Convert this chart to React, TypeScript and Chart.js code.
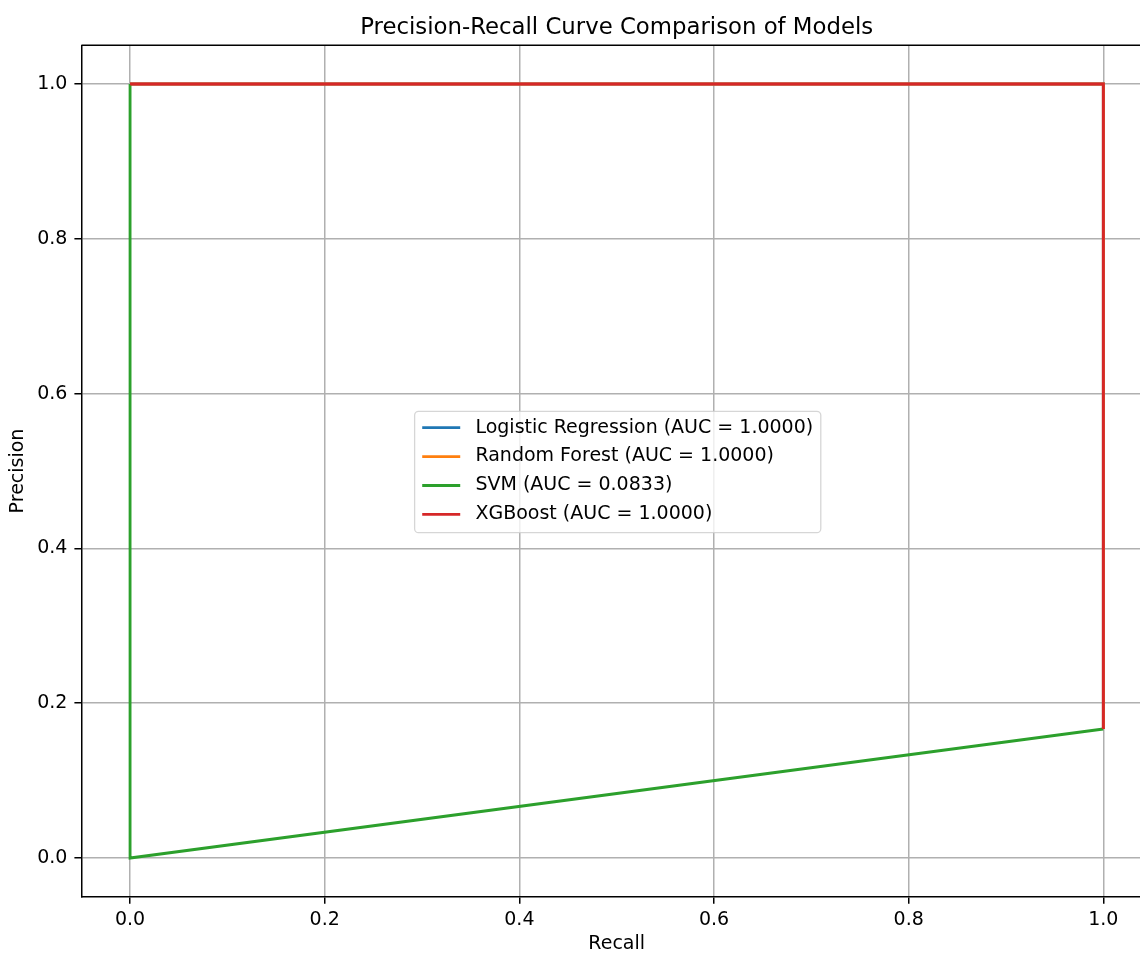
import React, { useEffect, useRef } from "react";
import { Chart, registerables } from "chart.js";

Chart.register(...registerables);

const titleText = "Precision-Recall Curve Comparison of Models";
const xLabel = "Recall";
const yLabel = "Precision";
const tickValues = [0, 0.2, 0.4, 0.6, 0.8, 1.0];
const axisMin = -0.05;
const axisMax = 1.05;

const modelNames = ["Logistic Regression", "Random Forest", "SVM", "XGBoost"];
const modelAUC = ["1.0000", "1.0000", "0.0833", "1.0000"];
const modelColors = ["#1f77b4", "#ff7f0e", "#2ca02c", "#d62728"];

const lrRecall = [1, 1, 0];
const lrPrecision = [0.1667, 1, 1];
const rfRecall = [1, 1, 0];
const rfPrecision = [0.1667, 1, 1];
const svmRecall = [1, 0, 0];
const svmPrecision = [0.1667, 0, 1];
const xgbRecall = [1, 1, 0];
const xgbPrecision = [0.1667, 1, 1];

const recalls = [lrRecall, rfRecall, svmRecall, xgbRecall];
const precisions = [lrPrecision, rfPrecision, svmPrecision, xgbPrecision];

const FONT = "'DejaVu Sans', 'Liberation Sans', sans-serif";

const decorPlugin = {
  id: "decor",
  afterDraw(chart: any) {
    const ctx = chart.ctx as CanvasRenderingContext2D;
    const a = chart.chartArea;
    ctx.save();
    // top spine
    ctx.strokeStyle = "#000";
    ctx.lineWidth = 1.5;
    ctx.beginPath();
    ctx.moveTo(a.left, a.top);
    ctx.lineTo(a.right, a.top);
    ctx.stroke();

    // title
    ctx.fillStyle = "#000";
    ctx.font = `22.8px ${FONT}`;
    ctx.textAlign = "center";
    ctx.textBaseline = "alphabetic";
    ctx.fillText(titleText, (a.left + a.right) / 2, a.top - 11.4);

    // legend
    const fs = 19;
    ctx.font = `${fs}px ${FONT}`;
    const datasets = chart.data.datasets;
    const labels = datasets.map((d: any) => d.label as string);
    let maxW = 0;
    labels.forEach((l: string) => {
      maxW = Math.max(maxW, ctx.measureText(l).width);
    });
    const pad = 0.4 * fs;
    const handleLen = 2 * fs;
    const handlePad = 0.8 * fs;
    const rowH = 19.4;
    const rowGap = 0.5 * fs;
    const W = pad + handleLen + handlePad + maxW + pad;
    const H = 2 * pad + labels.length * rowH + (labels.length - 1) * rowGap;
    const cx = (a.left + a.right) / 2 + 1;
    const cy = (a.top + a.bottom) / 2 + 1;
    const bx = cx - W / 2;
    const by = cy - H / 2;
    ctx.beginPath();
    (ctx as any).roundRect(bx, by, W, H, 4);
    ctx.fillStyle = "rgba(255,255,255,0.8)";
    ctx.fill();
    ctx.strokeStyle = "rgba(204,204,204,0.8)";
    ctx.lineWidth = 1.3;
    ctx.stroke();
    ctx.textAlign = "left";
    ctx.textBaseline = "middle";
    labels.forEach((l: string, i: number) => {
      const yc = by + pad + rowH / 2 + i * (rowH + rowGap) - 1;
      ctx.strokeStyle = datasets[i].borderColor;
      ctx.lineWidth = 2.85;
      ctx.beginPath();
      ctx.moveTo(bx + pad, yc);
      ctx.lineTo(bx + pad + handleLen, yc);
      ctx.stroke();
      ctx.fillStyle = "#000";
      ctx.fillText(l, bx + pad + handleLen + handlePad, yc);
    });
    ctx.restore();
  },
};

export default function App() {
  const canvasRef = useRef<HTMLCanvasElement | null>(null);

  useEffect(() => {
    const canvas = canvasRef.current;
    if (!canvas) return;
    const datasets = modelNames.map((name, i) => ({
      label: `${name} (AUC = ${modelAUC[i]})`,
      data: recalls[i].map((r, j) => ({ x: r, y: precisions[i][j] })),
      borderColor: modelColors[i],
      backgroundColor: modelColors[i],
      borderWidth: 2.85,
      pointRadius: 0,
      tension: 0,
      fill: false,
      order: modelNames.length - i,
    }));

    const tickCommon = {
      color: "#000",
      font: { family: FONT, size: 19 },
      autoSkip: false,
      maxRotation: 0,
      callback: (v: any) => Number(v).toFixed(1),
    };

    const chart = new Chart(canvas, {
      type: "line",
      data: { datasets },
      options: {
        animation: false,
        responsive: false,
        devicePixelRatio: 1,
        events: [],
        layout: { padding: { top: 45.3, left: 0, right: 8, bottom: 0 } },
        plugins: {
          legend: { display: false },
          tooltip: { enabled: false },
          title: { display: false },
        },
        scales: {
          x: {
            type: "linear",
            min: axisMin,
            max: axisMax,
            afterBuildTicks: (s: any) => {
              s.ticks = tickValues.map((v) => ({ value: v }));
            },
            afterFit: (s: any) => {
              s.height = 57.3;
            },
            ticks: { ...tickCommon, padding: 5 },
            grid: {
              color: "#b0b0b0",
              lineWidth: 1.5,
              tickColor: "#000",
              tickLength: 7,
              tickWidth: 1.5,
            },
            border: { display: true, color: "#000", width: 1.5 },
            title: {
              display: true,
              text: xLabel,
              color: "#000",
              font: { family: FONT, size: 19, lineHeight: 1 },
              padding: { top: 0, bottom: 0 },
            },
          },
          y: {
            type: "linear",
            min: axisMin,
            max: axisMax,
            afterBuildTicks: (s: any) => {
              s.ticks = tickValues.map((v) => ({ value: v }));
            },
            afterFit: (s: any) => {
              s.width = 81.4;
            },
            ticks: { ...tickCommon, padding: 7 },
            grid: {
              color: "#b0b0b0",
              lineWidth: 1.5,
              tickColor: "#000",
              tickLength: 7,
              tickWidth: 1.5,
            },
            border: { display: true, color: "#000", width: 1.5 },
            title: {
              display: true,
              text: yLabel,
              color: "#000",
              font: { family: FONT, size: 19, lineHeight: 1 },
              padding: { top: 9, bottom: 0 },
            },
          },
        },
      },
      plugins: [decorPlugin],
    } as any);

    return () => chart.destroy();
  }, []);

  return (
    <div
      style={{
        position: "fixed",
        left: 0,
        top: 0,
        width: 1140,
        height: 954,
        overflow: "hidden",
        background: "#fff",
      }}
    >
      <canvas
        ref={canvasRef}
        width={1160}
        height={954}
        style={{ width: 1160, height: 954, display: "block" }}
      />
    </div>
  );
}
